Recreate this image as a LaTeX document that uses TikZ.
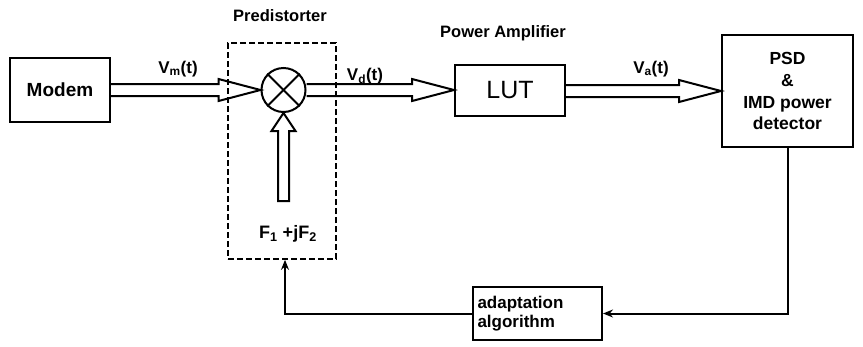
\documentclass[tikz,border=0pt]{standalone}
\usepackage{fontspec}
\setmainfont{Liberation Sans}
\usetikzlibrary{calc,arrows.meta}
\begin{document}
\begin{tikzpicture}[x=1pt,y=-1pt,
  font=\bfseries\fontsize{16.5}{21}\selectfont,
  box/.style={draw, line width=2pt, inner sep=0pt, align=center},
  dbox/.style={draw, line width=1.7pt, dash pattern=on 6pt off 3pt, inner sep=0pt},
  bigarr/.style={draw, line width=2pt, line join=miter},
  fb/.style={draw, line width=2pt, -{Stealth[length=10pt,width=8pt]}},
  lbl/.style={inner sep=0pt}]
\useasboundingbox (0,0) rectangle (863,346);

\newcommand\harr[2]{%
  \draw[bigarr] ($(#1 |- #2)+(0,-6)$) -- ($(#2)+(-42,-6)$) -- ($(#2)+(-42,-11)$) -- (#2)
     -- ($(#2)+(-42,11)$) -- ($(#2)+(-42,6)$) -- ($(#1 |- #2)+(0,6)$);}

% nodes
\node[box, minimum width=100pt, minimum height=64pt, font=\bfseries\fontsize{19}{23}\selectfont] (modem) at (60,90) {Modem};
\node[dbox, minimum width=108pt, minimum height=216pt] (pred) at (282,151) {};
\node[draw, circle, line width=2pt, minimum size=44pt, inner sep=0pt] (mult) at (283.5,90) {};
\node[box, minimum width=110pt, minimum height=51pt, font=\fontsize{25}{28}\selectfont] (lut) at (510,90) {LUT};
\node[box, minimum width=131pt, minimum height=112pt, font=\bfseries\fontsize{17.5}{21.5}\selectfont] (psd) at (787.5,91)
  {PSD\\[1pt]\&\\IMD power\\detector};
\node[box, minimum width=129pt, minimum height=53pt, align=left, text width=120pt,
  font=\bfseries\fontsize{17}{18.5}\selectfont] (adapt) at (537.5,313.5) {adaptation\\algorithm};

% labels
\node[lbl] (lpred) at (280,16) {Predistorter};
\node[lbl] (lpa) at (503,33) {Power Amplifier};
\node[lbl, font=\bfseries\fontsize{17}{21}\selectfont] (lvm) at (178,69) {V\textsubscript{m}(t)};
\node[lbl, font=\bfseries\fontsize{17}{21}\selectfont] (lvd) at (365,76) {V\textsubscript{d}(t)};
\node[lbl, font=\bfseries\fontsize{17}{21}\selectfont] (lva) at (651,69) {V\textsubscript{a}(t)};
\node[lbl, font=\bfseries\fontsize{18}{21}\selectfont] (lf) at (288,234) {F\textsubscript{1} +jF\textsubscript{2}};

% multiplier cross
\draw[line width=2pt] (mult.north east) -- (mult.south west);
\draw[line width=2pt] (mult.north west) -- (mult.south east);

% double arrows
\harr{modem.east}{mult.west}
\harr{mult.east}{lut.west}
\harr{lut.east}{psd.west}

% up arrow into multiplier
\draw[bigarr] ($(mult.south)+(-5.5,88)$) -- ($(mult.south)+(-5.5,18)$) -- ($(mult.south)+(-12,18)$)
  -- (mult.south) -- ($(mult.south)+(12,18)$) -- ($(mult.south)+(5.5,18)$)
  -- ($(mult.south)+(5.5,88)$) -- cycle;

% feedback
\draw[fb] (psd.south) |- (adapt.east);
\coordinate (pbot) at ($(pred.south)+(3,0)$);
\draw[fb] (adapt.west) -| (pbot);
\end{tikzpicture}
\end{document}
